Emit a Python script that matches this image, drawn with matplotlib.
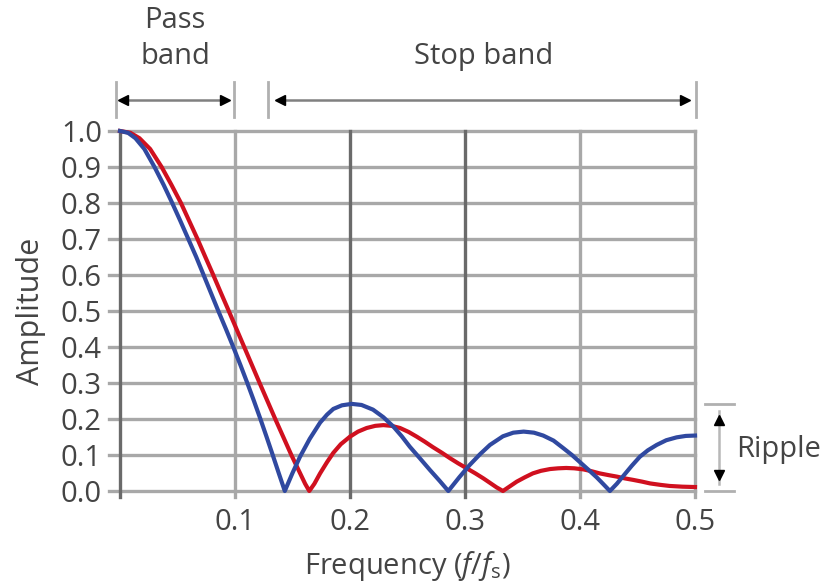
import matplotlib
matplotlib.use("Agg")
import matplotlib.pyplot as plt

# === Filter response data (amplitude vs normalised frequency) ===
blue_x = [0.0, 0.007, 0.0134, 0.0212, 0.030, 0.038, 0.0454, 0.0525, 0.0594, 0.0663, 0.0727,
          0.0791, 0.0855, 0.0921, 0.0985, 0.1047, 0.1107, 0.1165, 0.1221, 0.1275, 0.1328,
          0.1380, 0.1433, 0.150, 0.1565, 0.165, 0.174, 0.18, 0.1855, 0.193, 0.2015,
          0.21, 0.22, 0.229, 0.2377, 0.245, 0.252, 0.261, 0.2696, 0.278, 0.2855,
          0.295, 0.304, 0.313, 0.3217, 0.333, 0.342, 0.351, 0.36, 0.368, 0.377,
          0.3855, 0.393, 0.4, 0.407, 0.4145, 0.42, 0.426, 0.432, 0.4377, 0.445,
          0.452, 0.459, 0.4667, 0.475, 0.484, 0.492, 0.5]
blue_y = [1.0, 0.995, 0.98, 0.95, 0.9, 0.85, 0.8, 0.75, 0.7, 0.65, 0.6,
          0.55, 0.5, 0.45, 0.4, 0.35, 0.3, 0.25, 0.2, 0.15, 0.1,
          0.05, 0.0, 0.05, 0.095, 0.145, 0.19, 0.212, 0.228, 0.238, 0.242,
          0.239, 0.226, 0.205, 0.179, 0.152, 0.123, 0.09, 0.058, 0.028, 0.0,
          0.038, 0.072, 0.102, 0.128, 0.152, 0.162, 0.165, 0.162, 0.154, 0.14,
          0.119, 0.1, 0.08, 0.06, 0.038, 0.02, 0.0, 0.02, 0.042, 0.07,
          0.095, 0.113, 0.128, 0.141, 0.149, 0.153, 0.154]

red_x = [0.0, 0.009, 0.0169, 0.0262, 0.0362, 0.0448, 0.0530, 0.0602, 0.0674, 0.0742, 0.0811,
         0.0878, 0.0946, 0.1013, 0.1080, 0.1147, 0.1214, 0.1282, 0.1350, 0.1420, 0.149,
         0.1565, 0.161, 0.1646, 0.169, 0.174, 0.18, 0.1855, 0.192, 0.2,
         0.207, 0.2145, 0.222, 0.229, 0.236, 0.2435, 0.251, 0.258, 0.265, 0.272,
         0.28, 0.287, 0.294, 0.3015, 0.309, 0.316, 0.322, 0.3275, 0.333, 0.339,
         0.345, 0.352, 0.359, 0.366, 0.374, 0.381, 0.388, 0.395, 0.403, 0.41,
         0.417, 0.425, 0.432, 0.439, 0.446, 0.454, 0.461, 0.47, 0.478, 0.489, 0.5]
red_y = [1.0, 0.995, 0.98, 0.95, 0.9, 0.85, 0.8, 0.75, 0.7, 0.65, 0.6,
         0.55, 0.5, 0.45, 0.4, 0.35, 0.3, 0.25, 0.2, 0.15, 0.1,
         0.05, 0.02, 0.0, 0.02, 0.049, 0.08, 0.106, 0.13, 0.151,
         0.165, 0.175, 0.181, 0.183, 0.181, 0.175, 0.164, 0.151, 0.137, 0.122,
         0.106, 0.091, 0.077, 0.063, 0.049, 0.035, 0.022, 0.01, 0.0, 0.013,
         0.026, 0.038, 0.049, 0.056, 0.061, 0.063, 0.064, 0.063, 0.06, 0.055,
         0.049, 0.044, 0.04, 0.035, 0.031, 0.026, 0.021, 0.017, 0.014, 0.012, 0.011]

x_ticks = [0.1, 0.2, 0.3, 0.4, 0.5]
y_ticks = [0.0, 0.1, 0.2, 0.3, 0.4, 0.5, 0.6, 0.7, 0.8, 0.9, 1.0]

pass_band = (0.0, 0.1)
stop_band = (0.13, 0.5)

# === Style ===
plt.rcParams["font.family"] = ["Open Sans", "DejaVu Sans"]
plt.rcParams["mathtext.fontset"] = "custom"
plt.rcParams["mathtext.rm"] = "Open Sans"
plt.rcParams["mathtext.it"] = "Open Sans:italic"
text_col = "#444444"
grid_light = "#a8a8a8"
grid_dark = "#6a6a6a"
red = "#d0101f"
blue = "#3049a0"
fs = 21

fig = plt.figure(figsize=(8.22, 5.88), dpi=100)
ax = fig.add_axes([120 / 822, 1 - 491 / 588, 575 / 822, 360 / 588])
ax.set_xlim(0, 0.5)
ax.set_ylim(0, 1)
for s in ax.spines.values():
    s.set_visible(False)

# grid lines double as tick marks (they run a little past the axes)
for y in y_ticks:
    ax.axhline(y, xmin=-0.019, xmax=1, color=grid_light, lw=2.4, clip_on=False, zorder=1)
v_cols = {0.0: grid_dark, 0.1: grid_light, 0.2: grid_dark, 0.3: grid_dark,
          0.4: grid_light, 0.5: grid_light}
for x, c in v_cols.items():
    ax.axvline(x, ymin=-0.017, ymax=1, color=c, lw=2.4, clip_on=False, zorder=1)

ax.plot(red_x, red_y, color=red, lw=3, zorder=3, clip_on=False, solid_joinstyle="round")
ax.plot(blue_x, blue_y, color=blue, lw=3, zorder=4, clip_on=False, solid_joinstyle="round")

ax.set_xticks(x_ticks)
ax.set_xticklabels([f"{v:.1f}" for v in x_ticks])
ax.set_yticks(y_ticks)
ax.set_yticklabels([f"{v:.1f}" for v in y_ticks])
ax.tick_params(axis="both", length=0, labelsize=fs, labelcolor=text_col)
ax.tick_params(axis="y", pad=13)
ax.tick_params(axis="x", pad=12)

ax.set_xlabel(r"Frequency ($\mathit{f}$/$\mathit{f}_\mathrm{s}$)", fontsize=21,
              color=text_col, labelpad=9)
ax.set_ylabel("Amplitude", fontsize=22, color=text_col, labelpad=11)

# === Band annotations above the plot ===
arrow_y = 1.086
bar_lo, bar_hi = 1.039, 1.136
shaft = "#808080"


def band_arrow(x0, x1, bar0, bar1):
    ax.plot([bar0, bar0], [bar_lo, bar_hi], color="#b0b0b0", lw=2, clip_on=False)
    ax.plot([bar1, bar1], [bar_lo, bar_hi], color="#b0b0b0", lw=2, clip_on=False)
    ax.plot([x0, x1], [arrow_y, arrow_y], color=shaft, lw=1.8, clip_on=False)
    ax.plot([x0], [arrow_y], marker="<", color="black", ms=7, clip_on=False)
    ax.plot([x1], [arrow_y], marker=">", color="black", ms=7, clip_on=False)


band_arrow(pass_band[0] + 0.003, pass_band[1] - 0.009, pass_band[0] - 0.0035, pass_band[1] - 0.001)
band_arrow(stop_band[0] + 0.009, stop_band[1] - 0.009, stop_band[0] - 0.001, stop_band[1] + 0.001)

ax.text(0.048, 1.308, "Pass", ha="center", va="center", fontsize=fs, color=text_col)
ax.text(0.048, 1.206, "band", ha="center", va="center", fontsize=fs, color=text_col)
ax.text(0.316, 1.206, "Stop band", ha="center", va="center", fontsize=fs, color=text_col)

# === Ripple annotation on the right (height of the largest stop-band lobe) ===
ripple_top = max(v for x, v in zip(blue_x, blue_y) if x > stop_band[0])
rx0, rx1, rxm = 0.509, 0.534, 0.521
ax.plot([rx0, rx1], [ripple_top, ripple_top], color="#b0b0b0", lw=2, clip_on=False)
ax.plot([rx0, rx1], [0, 0], color="#b0b0b0", lw=2, clip_on=False)
ax.plot([rxm, rxm], [ripple_top - 0.02, 0.02], color="#b8b8b8", lw=1.8, clip_on=False)
ax.plot([rxm], [ripple_top - 0.045], marker="^", color="black", ms=7, clip_on=False)
ax.plot([rxm], [0.045], marker="v", color="black", ms=7, clip_on=False)
ax.text(0.536, 0.115, "Ripple", ha="left", va="center", fontsize=fs, color=text_col)

fig.savefig("out.png", dpi=100)
